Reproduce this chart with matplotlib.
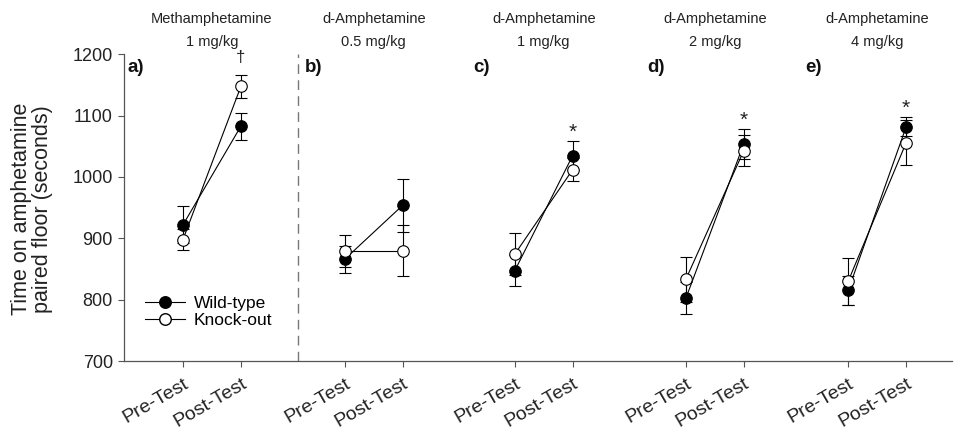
import matplotlib
matplotlib.use('Agg')
import matplotlib.pyplot as plt
from matplotlib.lines import Line2D
from matplotlib.transforms import blended_transform_factory

plt.rcParams['font.family'] = ['Liberation Sans', 'DejaVu Sans']

# ---- data ----
panels = ['a)', 'b)', 'c)', 'd)', 'e)']
drugs = ['Methamphetamine', 'd-Amphetamine', 'd-Amphetamine', 'd-Amphetamine', 'd-Amphetamine']
doses = ['1 mg/kg', '0.5 mg/kg', '1 mg/kg', '2 mg/kg', '4 mg/kg']
tests = ['Pre-Test', 'Post-Test']

wt_pre = [922, 866, 847, 802, 815]
wt_pre_err = [30, 22, 25, 26, 24]
wt_post = [1083, 954, 1035, 1054, 1082]
wt_post_err = [22, 43, 23, 24, 15]

ko_pre = [898, 880, 874, 833, 830]
ko_pre_err = [17, 26, 34, 36, 38]
ko_post = [1148, 880, 1012, 1043, 1056]
ko_post_err = [19, 42, 19, 25, 37]

sig = ['\u2020', '', '*', '*', '*']

# ---- layout ----
group_x = [0, 2.79, 5.72, 8.67, 11.47]
letter_dx = [-0.95, -0.69, -0.72, -0.66, -0.74]
divider_x = 1.98

W, H = 955, 429
fig = plt.figure(figsize=(W / 100, H / 100), dpi=100)
ax = fig.add_axes([124 / W, 1 - 361 / H, (952 - 124) / W, (361 - 54.3) / H])

axis_col = '#555555'
lw = 0.8
for i, gx in enumerate(group_x):
    xs = [gx, gx + 1]
    ax.errorbar(xs, [wt_pre[i], wt_post[i]], yerr=[wt_pre_err[i], wt_post_err[i]],
                color='black', lw=lw, marker='o', ms=8.3, mfc='black', mec='black',
                mew=0.8, capsize=4, elinewidth=lw, capthick=lw, zorder=3)
    ax.errorbar(xs, [ko_pre[i], ko_post[i]], yerr=[ko_pre_err[i], ko_post_err[i]],
                color='black', lw=lw, marker='o', ms=8.3, mfc='white', mec='black',
                mew=0.8, capsize=4, elinewidth=lw, capthick=lw, zorder=4)
    # significance
    if sig[i]:
        top = max(wt_post[i] + wt_post_err[i], ko_post[i] + ko_post_err[i])
        if sig[i] == '\u2020':
            ax.annotate(sig[i], (gx + 1, top), xytext=(0, 12), textcoords='offset points',
                        ha='center', va='center', fontsize=12, color='#222222')
        else:
            ax.annotate(sig[i], (gx + 1, top), xytext=(0, 6.5), textcoords='offset points',
                        ha='center', va='center', fontsize=15, color='#222222')

trans = blended_transform_factory(ax.transData, ax.transAxes)
for i, gx in enumerate(group_x):
    ax.text(gx + 0.5, 1.115, drugs[i], transform=trans, ha='center', va='center',
            fontsize=10.5, color='#222222')
    ax.text(gx + 0.5, 1.04, doses[i], transform=trans, ha='center', va='center',
            fontsize=10.5, color='#222222')
    ax.text(gx + letter_dx[i], 0.957, panels[i], transform=trans, ha='left', va='center',
            fontsize=13.5, fontweight='bold', color='#111111')

ax.axvline(divider_x, color='#777777', lw=1.0, ls=(0, (7, 4.5)), zorder=1)

ax.set_xlim(-1.017, 13.26)
ax.set_ylim(700, 1200)
ax.set_yticks([700, 800, 900, 1000, 1100, 1200])
xt = []
xl = []
for gx in group_x:
    xt += [gx, gx + 1]
    xl += tests
ax.set_xticks(xt)
ax.set_xticklabels(xl, rotation=30, ha='right', rotation_mode='anchor', fontsize=14)
ax.tick_params(axis='both', direction='out', length=4, width=0.8, color=axis_col,
               labelcolor='#222222')
ax.tick_params(axis='y', labelsize=13, pad=4)
ax.tick_params(axis='x', pad=6)
for s in ['top', 'right']:
    ax.spines[s].set_visible(False)
for s in ['left', 'bottom']:
    ax.spines[s].set_color(axis_col)
    ax.spines[s].set_linewidth(0.9)

fig.text(32 / W, 1 - 209 / H, 'Time on amphetamine\npaired floor (seconds)', rotation=90,
         ha='center', va='center', multialignment='center', fontsize=15.5,
         linespacing=1.05, color='#222222')

handles = [Line2D([], [], color='black', lw=lw, marker='o', ms=8.3, mfc='black', mec='black'),
           Line2D([], [], color='black', lw=lw, marker='o', ms=8.3, mfc='white', mec='black')]
ax.legend(handles, ['Wild-type', 'Knock-out'], loc='upper left',
          bbox_to_anchor=((145 - 124) / 828, (361 - 296) / 306.7),
          frameon=False, fontsize=12.5, handlelength=2.3, handletextpad=0.5,
          labelspacing=0.1, borderpad=0, borderaxespad=0)

fig.savefig('out.png', dpi=100)
